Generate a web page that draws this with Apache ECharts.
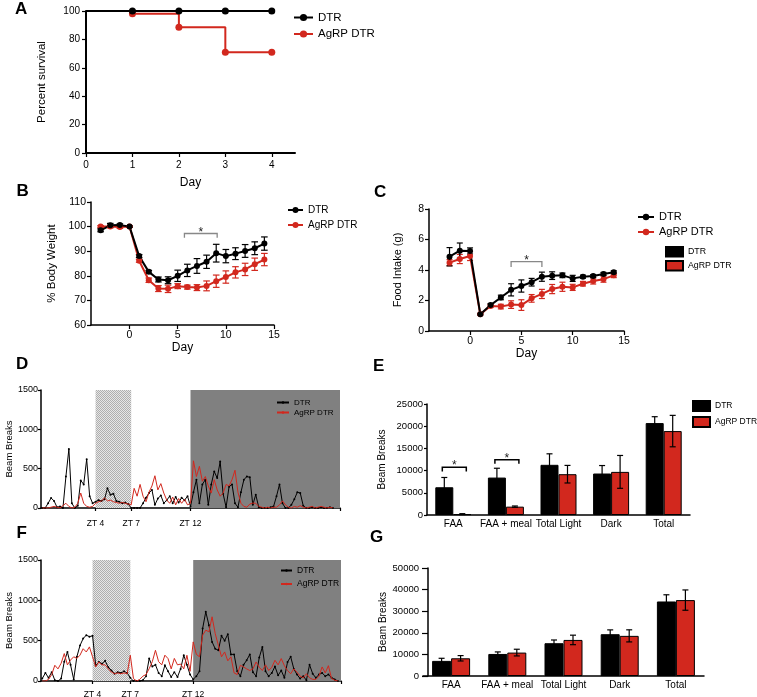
<!DOCTYPE html>
<html><head><meta charset="utf-8">
<script src="https://cdn.jsdelivr.net/npm/echarts@6/dist/echarts.min.js"></script>
<style>html,body{margin:0;padding:0;background:#fff}#c{width:757px;height:697px}</style>
</head><body><div id="c"></div>
<script>
// ================= DATA =================
// Panel A: percent survival
const survDays = [0, 1, 2, 3, 4];
const survDTR = [100, 100, 100, 100, 100];
const survAgRP = [100, 98, 88.5, 71, 71];
const survTicks = [0, 1, 2, 3, 4];

// Panel B: % body weight (mean, sem)
const bwDays = [-3,-2,-1,0,1,2,3,4,5,6,7,8,9,10,11,12,13,14];
const bwDTR = [98.5,100.5,100.6,100,88,81.6,78.5,78.2,80,82.2,84,85.7,89.2,88,89,90.1,91.2,93.1];
const bwDTRerr = [0.6,0.8,0.5,0.3,0.6,0.6,1,1.4,2.3,2.5,3,2.7,3.6,2.7,2.4,2.6,2.6,2.7];
const bwAgRP = [100,100,99.8,100,86.1,78.2,74.8,74.7,75.8,75.4,75.2,75.9,77.8,79.5,81.4,82.6,84.7,86.6];
const bwAgRPerr = [0.4,0.5,0.5,0.3,0.6,0.9,1.2,1.5,1,0.8,1.2,2,2.5,2.5,2.3,2.5,2.5,2.5];
const bwSig = [[5.7, 9.1, 97.2, 95.5]];

// Panel C: food intake (g)
const fiDays = [-2,-1,0,1,2,3,4,5,6,7,8,9,10,11,12,13,14];
const fiDTR = [4.87,5.27,5.25,1.1,1.7,2.2,2.7,2.95,3.2,3.56,3.63,3.65,3.45,3.56,3.6,3.74,3.85];
const fiDTRerr = [0.6,0.5,0.2,0.05,0.1,0.15,0.4,0.4,0.25,0.3,0.25,0.15,0.2,0.1,0.1,0.1,0.1];
const fiAgRP = [4.48,4.72,4.92,1.1,1.64,1.6,1.73,1.7,2.14,2.43,2.75,2.9,2.86,3.1,3.28,3.4,3.65];
const fiAgRPerr = [0.2,0.3,0.3,0.05,0.1,0.15,0.25,0.35,0.25,0.3,0.3,0.3,0.2,0.15,0.2,0.2,0.15];
const fiSig = [[4, 7, 4.55, 4.2]];
const dayTicks = [0, 5, 10, 15];

// Panel D: beam breaks, 15-min bins starting ZT -0.5
const dStart = -0.5, binH = 0.25;
const dDTR = [0,0,60,127,90,10,20,0,400,750,60,0,30,350,300,620,150,60,
  80,100,90,110,250,170,180,90,80,60,70,50,
  0,0,0,0,60,130,190,230,40,120,160,60,
  100,150,60,140,70,130,100,150,
  20,200,360,60,300,360,40,300,
  465,380,590,180,10,270,300,60,
  10,200,360,400,390,40,170,10,
  0,0,0,10,20,150,300,60,
  0,0,40,110,200,190,30,0,
  0,10,0,0,10,0,0,10,0];
const dAgRP = [0,0,0,10,20,10,0,30,60,20,0,10,60,190,60,20,10,20,
  60,80,90,127,90,100,80,70,60,70,60,50,
  40,250,150,300,150,80,200,280,410,230,310,190,
  100,60,140,40,120,60,110,40,
  60,600,400,530,340,400,280,190,
  360,230,150,190,300,280,360,480,
  200,60,20,10,50,63,60,20,
  10,0,10,0,10,10,40,90,
  40,10,0,20,10,30,10,0,
  10,20,0,10,20,10,0,10,0];

// Panel F: beam breaks, 15-min bins starting ZT 0
const fStart = 0;
const fDTR = [30,100,40,110,10,0,30,240,360,200,20,300,440,526,568,550,
  560,195,236,215,250,170,130,90,110,100,120,100,
  40,0,0,0,10,60,278,180,200,100,60,195,
  120,50,110,50,150,320,200,80,
  20,60,120,650,858,692,485,400,
  381,560,500,580,330,330,120,60,
  200,257,330,110,60,290,423,120,
  60,100,180,70,130,40,236,300,
  150,80,30,60,10,200,90,40,
  80,100,60,80,40,20,0];
const fAgRP = [0,0,20,80,195,150,220,340,200,260,300,280,320,400,360,423,
  300,174,236,200,200,150,110,90,100,90,100,90,
  319,30,0,20,60,80,153,240,381,240,200,320,
  278,150,280,200,210,150,319,120,
  485,330,300,568,630,610,796,588,
  443,300,360,250,300,100,80,195,
  174,150,130,150,236,170,130,200,
  130,170,257,200,278,190,130,90,
  150,110,60,40,90,40,20,20,
  60,174,100,190,30,10,0];
const ztTicks = [4, 7, 12];
const ztHatch = [4, 7];      // hatched window (ZT4-ZT7)
const ztDarkStart = 12;      // dark phase start

// Panels E & G: bar summaries
const barCats = ['FAA', 'FAA + meal', 'Total Light', 'Dark', 'Total'];
const eDTR = [6250, 8430, 11300, 9340, 20700];
const eDTRerr = [2200, 2100, 2480, 1800, 1440];
const eAgRP = [200, 1880, 9190, 9710, 18900];
const eAgRPerr = [100, 150, 1980, 3700, 3540];
const eSig = [[0, 10770, 9790], [1, 12425, 11520]];
const gDTR = [7000, 10200, 15170, 19350, 34500];
const gDTRerr = [1200, 950, 1500, 2000, 3100];
const gAgRP = [8200, 10840, 16700, 18580, 35140];
const gAgRPerr = [1250, 1550, 2200, 2800, 4700];

const panelLetters = ['A', 'B', 'C', 'D', 'E', 'F', 'G'];

// ================= STYLE / LAYOUT =================
const FONT = '"Liberation Sans", Arial, Helvetica, sans-serif';
const RED = '#d2281e';
const BLK = '#000000';
const letterPos = [[15, 9.5], [16.5, 191], [374, 192.5], [16, 364], [373, 366], [16.5, 533.5], [370, 537]];

function merge(a, b) {
  const out = Object.assign({}, a);
  for (const k in b) {
    const v = b[k];
    if (v && typeof v === 'object' && !Array.isArray(v) && out[k] && typeof out[k] === 'object' && !Array.isArray(out[k])) out[k] = merge(out[k], v);
    else out[k] = v;
  }
  return out;
}
const plain = v => String(v);
const baseAxis = {
  splitLine: {show: false},
  axisLine: {show: true, onZero: false, lineStyle: {color: '#000', width: 1.5}},
  axisTick: {show: true, inside: false, length: 4, lineStyle: {color: '#000', width: 1.2}},
  axisLabel: {color: '#000', fontFamily: FONT, fontSize: 10, margin: 6, formatter: plain},
  nameLocation: 'middle',
  nameTextStyle: {color: '#000', fontFamily: FONT, fontSize: 11}
};
const axis = o => merge(baseAxis, o);

// hatched pattern for ZT4-ZT7
const pc = document.createElement('canvas');
pc.width = 4; pc.height = 4;
const pg = pc.getContext('2d');
pg.fillStyle = '#e6e6e6'; pg.fillRect(0, 0, 4, 4);
pg.fillStyle = '#aeaeae';
for (let yy = 0; yy < 4; yy++) for (let xx = 0; xx < 4; xx++) if ((xx + yy) % 2 === 0) pg.fillRect(xx, yy, 1, 1);
const hatch = {image: pc, repeat: 'repeat'};

function errRender(color, capHalf, offsetPx) {
  return function (params, api) {
    const x = api.value(0), y = api.value(1), e = api.value(2);
    const top = api.coord([x, y + e]), bot = api.coord([x, y - e]);
    const cx = top[0] + offsetPx;
    const st = {stroke: color, lineWidth: 1.2, fill: null};
    return {type: 'group', children: [
      {type: 'line', shape: {x1: cx, y1: top[1], x2: cx, y2: bot[1]}, style: st},
      {type: 'line', shape: {x1: cx - capHalf, y1: top[1], x2: cx + capHalf, y2: top[1]}, style: st},
      {type: 'line', shape: {x1: cx - capHalf, y1: bot[1], x2: cx + capHalf, y2: bot[1]}, style: st}
    ]};
  };
}
function starText(x, y) {
  return {type: 'text', x: x, y: y, style: {text: '*', fill: '#222', font: '12px ' + FONT,
    textAlign: 'center', textVerticalAlign: 'middle', align: 'center', verticalAlign: 'middle'}};
}
function bracketRender(color) {
  return function (params, api) {
    const x1 = api.value(0), x2 = api.value(1), yT = api.value(2), yL = api.value(3);
    const p1 = api.coord([x1, yL]), p2 = api.coord([x1, yT]), p3 = api.coord([x2, yT]), p4 = api.coord([x2, yL]);
    return {type: 'group', children: [
      {type: 'polyline', shape: {points: [p1, p2, p3, p4]}, style: {stroke: color, fill: null, lineWidth: 1.3}},
      starText((p2[0] + p3[0]) / 2, p2[1] - 1)
    ]};
  };
}
function catBracketRender(color, hw) {
  return function (params, api) {
    const c = api.value(0), yT = api.value(1), yL = api.value(2);
    const t = api.coord([c, yT]), l = api.coord([c, yL]);
    const cx = t[0] + 1;
    return {type: 'group', children: [
      {type: 'polyline', shape: {points: [[cx - hw, l[1]], [cx - hw, t[1]], [cx + hw, t[1]], [cx + hw, l[1]]]},
        style: {stroke: color, fill: null, lineWidth: 1.5}},
      starText(cx, t[1] - 1)
    ]};
  };
}

const lineSeries = (name, gi, xs, ys, color, extra) => Object.assign({
  name: name, type: 'line', xAxisIndex: gi, yAxisIndex: gi,
  data: xs.map((x, i) => [x, ys[i]]),
  color: color, symbol: 'circle', symbolSize: 6,
  lineStyle: {color: color, width: 2}, itemStyle: {color: color},
  z: 4, silent: true, animation: false
}, extra || {});
const errSeries = (gi, xs, ys, es, color, cap, off) => ({
  type: 'custom', xAxisIndex: gi, yAxisIndex: gi, clip: false, silent: true, z: 3,
  renderItem: errRender(color, cap, off || 0),
  encode: {x: 0, y: 1},
  data: xs.map((x, i) => [x, ys[i], es[i]])
});

const dTimes = dDTR.map((_, i) => dStart + i * binH);
const fTimes = fDTR.map((_, i) => fStart + i * binH);

const legendBase = {
  orient: 'vertical', padding: 0, selectedMode: false,
  formatter: n => n.split('|')[0],
  textStyle: {color: '#000', fontFamily: FONT, fontSize: 10}
};
const legend = (o) => merge(legendBase, o);

const option = {
  animation: false,
  backgroundColor: '#fff',
  grid: [
    {left: 86, top: 11, width: 209, height: 142, outerBoundsMode: 'none'},
    {left: 91, top: 202, width: 183, height: 123, outerBoundsMode: 'none'},
    {left: 429, top: 209, width: 195, height: 122, outerBoundsMode: 'none'},
    {left: 41, top: 390, width: 299, height: 118, outerBoundsMode: 'none'},
    {left: 427, top: 404, width: 263, height: 111, outerBoundsMode: 'none'},
    {left: 41, top: 560, width: 300, height: 121, outerBoundsMode: 'none'},
    {left: 423, top: 568, width: 281, height: 108, outerBoundsMode: 'none'}
  ],
  xAxis: [
    axis({gridIndex: 0, type: 'value', min: 0, max: 4.5, name: 'Day', nameGap: 24, nameTextStyle: {fontSize: 12},
      axisLine: {lineStyle: {width: 2}}, axisTick: {customValues: survTicks}, axisLabel: {customValues: survTicks, margin: 7}}),
    axis({gridIndex: 1, type: 'value', min: -4, max: 15, name: 'Day', nameGap: 17, nameTextStyle: {fontSize: 12},
      axisTick: {customValues: dayTicks}, axisLabel: {customValues: dayTicks, margin: 5, fontSize: 10.5}}),
    axis({gridIndex: 2, type: 'value', min: -4, max: 15, name: 'Day', nameGap: 15, nameTextStyle: {fontSize: 12},
      axisTick: {customValues: dayTicks}, axisLabel: {customValues: dayTicks, margin: 5, fontSize: 10.5}}),
    axis({gridIndex: 3, type: 'value', min: -0.6, max: 24.6,
      axisTick: {customValues: ztTicks.concat([24.6]), length: 3}, axisLabel: {customValues: ztTicks, margin: 11, fontSize: 8.5, formatter: v => 'ZT ' + v}}),
    axis({gridIndex: 4, type: 'category', data: barCats, axisTick: {show: false}, axisLabel: {margin: 4, fontSize: 10, interval: 0, hideOverlap: false}}),
    axis({gridIndex: 5, type: 'value', min: -0.1, max: 23.75,
      axisTick: {customValues: ztTicks.concat([23.75]), length: 3}, axisLabel: {customValues: ztTicks, margin: 9, fontSize: 8.5, formatter: v => 'ZT ' + v}}),
    axis({gridIndex: 6, type: 'category', data: barCats, axisTick: {show: false}, axisLabel: {margin: 4, fontSize: 10, interval: 0, hideOverlap: false}})
  ],
  yAxis: [
    axis({gridIndex: 0, type: 'value', min: 0, max: 100, interval: 20, name: 'Percent survival', nameGap: 38,
      nameTextStyle: {fontSize: 11.5}, axisLine: {lineStyle: {width: 2}}, axisLabel: {margin: 6}}),
    axis({gridIndex: 1, type: 'value', min: 60, max: 110, interval: 10, name: '% Body Weight', nameGap: 33,
      nameTextStyle: {fontSize: 11.5}, axisLabel: {margin: 5, fontSize: 10.5}}),
    axis({gridIndex: 2, type: 'value', min: 0, max: 8, interval: 2, name: 'Food Intake (g)', nameGap: 26,
      nameTextStyle: {fontSize: 11}, axisLabel: {margin: 5, fontSize: 10.5}}),
    axis({gridIndex: 3, type: 'value', min: 0, max: 1500, interval: 500, name: 'Beam Breaks', nameGap: 25.5,
      nameTextStyle: {fontSize: 9.5}, axisTick: {length: 3}, axisLabel: {margin: 3, fontSize: 9}}),
    axis({gridIndex: 4, type: 'value', min: 0, max: 25000, interval: 5000, name: 'Beam Breaks', nameGap: 40,
      nameTextStyle: {fontSize: 10}, axisTick: {length: 3}, axisLabel: {margin: 4, fontSize: 9.5}}),
    axis({gridIndex: 5, type: 'value', min: 0, max: 1500, interval: 500, name: 'Beam Breaks', nameGap: 27,
      nameTextStyle: {fontSize: 9.5}, axisTick: {length: 3}, axisLabel: {margin: 3, fontSize: 9}}),
    axis({gridIndex: 6, type: 'value', min: 0, max: 50000, interval: 10000, name: 'Beam Breaks', nameGap: 40, offset: -5,
      nameTextStyle: {fontSize: 10}, axisTick: {length: 6}, axisLabel: {margin: 9, fontSize: 9.5}})
  ],
  legend: [
    legend({left: 293, top: 11.5, itemWidth: 19, itemHeight: 9, itemGap: 4.5, textStyle: {fontSize: 11.5}, data: ['DTR|A', 'AgRP DTR|A']}),
    legend({left: 287, top: 205, itemWidth: 15, itemHeight: 7.5, itemGap: 5, textStyle: {fontSize: 10}, data: ['DTR|B', 'AgRP DTR|B']}),
    legend({left: 637, top: 211.5, itemWidth: 16, itemHeight: 8, itemGap: 4, textStyle: {fontSize: 11}, data: ['DTR|C', 'AgRP DTR|C']}),
    legend({left: 665, top: 246, itemWidth: 17, itemHeight: 9.5, itemGap: 2.5, icon: 'rect', textStyle: {fontSize: 8.8}, data: ['DTR|E', 'AgRP DTR|E']}),
    legend({left: 276, top: 398.5, itemWidth: 12, itemHeight: 3, itemGap: 2, textStyle: {fontSize: 8}, data: ['DTR|D', 'AgRP DTR|D']}),
    legend({left: 692, top: 400, itemWidth: 17, itemHeight: 10, itemGap: 4, icon: 'rect', textStyle: {fontSize: 8.5}, data: ['DTR|E', 'AgRP DTR|E']}),
    legend({left: 280, top: 566, itemWidth: 11, itemHeight: 3, itemGap: 4.5, textStyle: {fontSize: 8.5}, data: ['DTR|F', 'AgRP DTR|F']})
  ],
  graphic: panelLetters.map((t, i) => ({
    type: 'text', x: letterPos[i][0], y: letterPos[i][1], silent: true,
    style: {text: t, fill: '#000', font: 'bold 17px ' + FONT, textAlign: 'left', textVerticalAlign: 'middle', align: 'left', verticalAlign: 'middle'}
  })),
  series: [
    // ---- A ----
    lineSeries('AgRP DTR|A', 0, survDays, survAgRP, RED, {step: 'end', symbolSize: 7,
      data: survDays.map((d, i) => i === 0 ? {value: [d, survAgRP[i]], symbol: 'none'} : [d, survAgRP[i]])}),
    lineSeries('DTR|A', 0, survDays, survDTR, BLK, {step: 'end', symbolSize: 7, z: 5,
      data: survDays.map((d, i) => i === 0 ? {value: [d, survDTR[i]], symbol: 'none'} : [d, survDTR[i]])}),
    // ---- B ----
    errSeries(1, bwDays, bwAgRP, bwAgRPerr, RED, 3.3),
    errSeries(1, bwDays, bwDTR, bwDTRerr, BLK, 3.3),
    lineSeries('AgRP DTR|B', 1, bwDays, bwAgRP, RED),
    lineSeries('DTR|B', 1, bwDays, bwDTR, BLK),
    {type: 'custom', xAxisIndex: 1, yAxisIndex: 1, clip: false, silent: true, renderItem: bracketRender('#888'),
      encode: {x: [0, 1], y: [2, 3]}, data: bwSig},
    // ---- C ----
    errSeries(2, fiDays, fiAgRP, fiAgRPerr, RED, 3),
    errSeries(2, fiDays, fiDTR, fiDTRerr, BLK, 3),
    lineSeries('AgRP DTR|C', 2, fiDays, fiAgRP, RED),
    lineSeries('DTR|C', 2, fiDays, fiDTR, BLK),
    {type: 'custom', xAxisIndex: 2, yAxisIndex: 2, clip: false, silent: true, renderItem: bracketRender('#888'),
      encode: {x: [0, 1], y: [2, 3]}, data: fiSig},
    // ---- D ----
    {type: 'line', xAxisIndex: 3, yAxisIndex: 3, data: [], z: 1, silent: true,
      markArea: {silent: true, label: {show: false}, data: [
        [{xAxis: ztHatch[0], itemStyle: {color: hatch, opacity: 1}}, {xAxis: ztHatch[1]}],
        [{xAxis: ztDarkStart, itemStyle: {color: '#808080', opacity: 1}}, {xAxis: 24.6}]
      ]}},
    lineSeries('DTR|D', 3, dTimes, dDTR, BLK, {symbolSize: 2, lineStyle: {color: BLK, width: 1}, z: 4}),
    lineSeries('AgRP DTR|D', 3, dTimes, dAgRP, RED, {symbol: 'none', lineStyle: {color: RED, width: 1}, z: 5}),
    // ---- F ----
    {type: 'line', xAxisIndex: 5, yAxisIndex: 5, data: [], z: 1, silent: true,
      markArea: {silent: true, label: {show: false}, data: [
        [{xAxis: ztHatch[0], itemStyle: {color: hatch, opacity: 1}}, {xAxis: ztHatch[1]}],
        [{xAxis: ztDarkStart, itemStyle: {color: '#808080', opacity: 1}}, {xAxis: 23.75}]
      ]}},
    lineSeries('DTR|F', 5, fTimes, fDTR, BLK, {symbolSize: 2, lineStyle: {color: BLK, width: 1}, z: 4}),
    lineSeries('AgRP DTR|F', 5, fTimes, fAgRP, RED, {symbol: 'none', lineStyle: {color: RED, width: 1}, z: 5}),
    // ---- E ----
    {name: 'DTR|E', type: 'bar', xAxisIndex: 4, yAxisIndex: 4, data: eDTR, barWidth: 18, barGap: '0%',
      itemStyle: {color: BLK, borderColor: '#000', borderWidth: 1}, silent: true, z: 2},
    {name: 'AgRP DTR|E', type: 'bar', xAxisIndex: 4, yAxisIndex: 4, data: eAgRP, barWidth: 18, barGap: '0%',
      itemStyle: {color: RED, borderColor: '#000', borderWidth: 1}, silent: true, z: 2},
    errSeries(4, barCats.map((_, i) => i), eDTR, eDTRerr, BLK, 3, -9),
    errSeries(4, barCats.map((_, i) => i), eAgRP, eAgRPerr, BLK, 3, 9),
    {type: 'custom', xAxisIndex: 4, yAxisIndex: 4, clip: false, silent: true, renderItem: catBracketRender('#000', 12),
      encode: {x: 0, y: [1, 2]}, data: eSig},
    // ---- G ----
    {name: 'DTR|G', type: 'bar', xAxisIndex: 6, yAxisIndex: 6, data: gDTR, barWidth: 19, barGap: '0%',
      itemStyle: {color: BLK, borderColor: '#000', borderWidth: 1}, silent: true, z: 2},
    {name: 'AgRP DTR|G', type: 'bar', xAxisIndex: 6, yAxisIndex: 6, data: gAgRP, barWidth: 19, barGap: '0%',
      itemStyle: {color: RED, borderColor: '#000', borderWidth: 1}, silent: true, z: 2},
    errSeries(6, barCats.map((_, i) => i), gDTR, gDTRerr, BLK, 3, -9.5),
    errSeries(6, barCats.map((_, i) => i), gAgRP, gAgRPerr, BLK, 3, 9.5)
  ]
};

const chart = echarts.init(document.getElementById('c'), null, {renderer: 'canvas'});
chart.setOption(option);
</script>
</body></html>
